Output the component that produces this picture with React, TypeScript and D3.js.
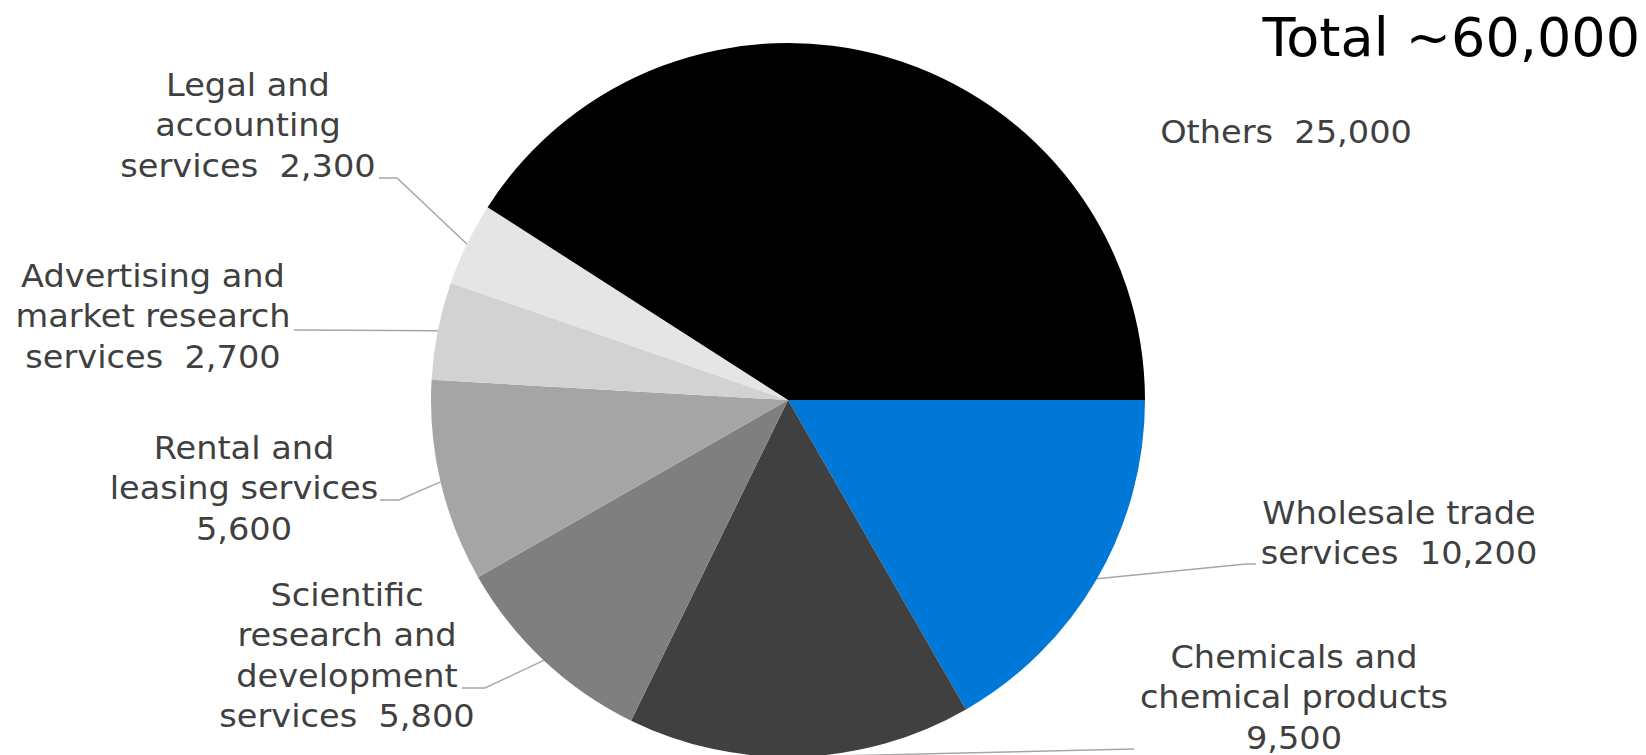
import React from "react";
import * as d3 from "d3";

const categories = [
  "Wholesale trade services",
  "Chemicals and chemical products",
  "Scientific research and development services",
  "Rental and leasing services",
  "Advertising and market research services",
  "Legal and accounting services",
  "Others",
];
const values = [10200, 9500, 5800, 5600, 2700, 2300, 25000];
const valueLabels = ["10,200", "9,500", "5,800", "5,600", "2,700", "2,300", "25,000"];
const labelLines = [
  ["Wholesale trade", "services  10,200"],
  ["Chemicals and", "chemical products", "9,500"],
  ["Scientific", "research and", "development", "services  5,800"],
  ["Rental and", "leasing services", "5,600"],
  ["Advertising and", "market research", "services  2,700"],
  ["Legal and", "accounting", "services  2,300"],
  ["Others  25,000"],
];
const colors = ["#0078d7", "#404040", "#7f7f7f", "#a5a5a5", "#d2d2d2", "#e5e5e5", "#000000"];
const title = "Total ~60,000";

// layout (label block centre x, first line centre y)
const labelPos: [number, number][] = [
  [1399, 512],
  [1294, 656],
  [347, 594],
  [244, 447],
  [153, 275],
  [248, 84],
  [1286, 131],
];
// leader: [text-side x, y, elbow x] or null
const leaders: ([number, number, number] | null)[] = [
  [1256, 564, 1246],
  [1134, 749, 1134],
  [462, 688, 485],
  [380, 500, 399],
  [294, 330, 300],
  [379, 178, 397],
  null,
];

export default function App() {
  const W = 1646, H = 755;
  const cx = 788, cy = 400, r = 357;
  const lineH = 40.5;
  const fs = 32;
  const sx = 1.05;
  const pie = d3.pie<number>().sort(null).startAngle(Math.PI / 2).endAngle(Math.PI / 2 + 2 * Math.PI);
  const arcs = pie(values);
  const arc = d3.arc<d3.PieArcDatum<number>>().innerRadius(0).outerRadius(r);
  return (
    <svg width={W} height={H} style={{ position: "absolute", left: 0, top: 0, background: "#fff" }}
      fontFamily="'DejaVu Sans', Verdana, sans-serif">
      <rect width={W} height={H} fill="#fff" />
      <g transform={`translate(${cx},${cy})`}>
        {arcs.map((a, i) => (
          <path key={i} d={arc(a) || ""} fill={colors[i]} />
        ))}
      </g>
      {arcs.map((a, i) => {
        const l = leaders[i];
        if (!l) return null;
        const mid = (a.startAngle + a.endAngle) / 2;
        const ex = cx + r * Math.sin(mid);
        const ey = cy - r * Math.cos(mid);
        const pts = [[l[0], l[1]], [l[2], l[1]], [ex, ey]];
        return (
          <polyline key={"l" + i} points={pts.map((p) => p.join(",")).join(" ")}
            fill="none" stroke="#a6a6a6" strokeWidth={1.5} />
        );
      })}
      {labelLines.map((lines, i) => {
        const [x, y0] = labelPos[i];
        return (
          <g key={"t" + i} transform={`translate(${x},0) scale(${sx},1)`}>
            {lines.map((t, j) => (
              <text key={j} x={0} y={y0 + j * lineH + fs * 0.36} textAnchor="middle"
                fontSize={fs} fill="#404040" style={{ whiteSpace: "pre" }}>
                {t}
              </text>
            ))}
          </g>
        );
      })}
      <text x={1640} y={56} textAnchor="end" fontSize={54} fill="#000">{title}</text>
    </svg>
  );
}
